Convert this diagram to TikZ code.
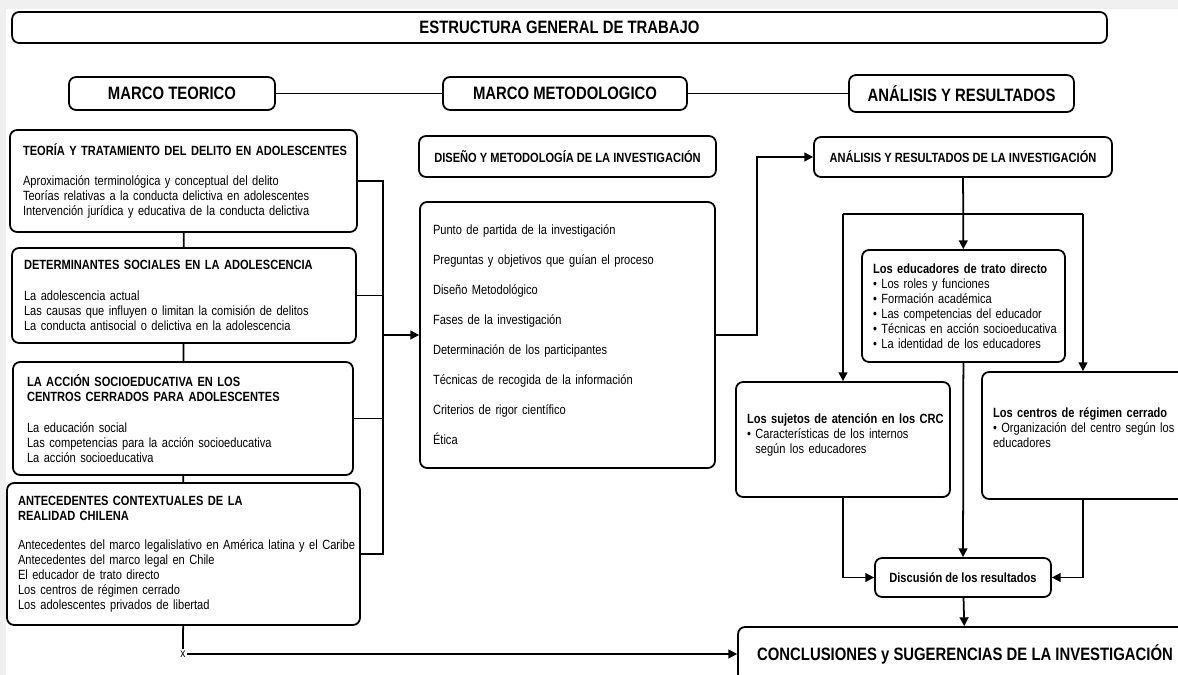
\documentclass[tikz,border=0pt]{standalone}
\usepackage{fontspec}
\setmainfont{Liberation Sans}[FakeStretch=0.83]
\usetikzlibrary{arrows.meta}
\newcommand{\chico}{\fontsize{7.6}{8.54}\selectfont\hyphenpenalty=10000}
\newcommand{\grande}{\fontsize{10.2}{12}\selectfont\bfseries}

\begin{document}
\begin{tikzpicture}[x=0.02cm, y=-0.02cm,
    caja/.style={draw=black, line width=1pt, rounded corners=4pt, fill=white},
    cabeza/.style={caja, font=\grande, inner sep=0pt},
    lista/.style={caja, font=\chico, align=left, inner ysep=0pt},
    centro/.style={caja, font=\chico\bfseries, inner sep=0pt},
    linea/.style={black, line width=1pt},
    flecha/.style={linea, -{Triangle[length=5pt,width=5pt]}}]
    \useasboundingbox (0,0) rectangle (1178,675);
    \clip (0,0) rectangle (1178,675);
    \fill[black!6] (0,0) rectangle (1178,9);
    \fill[black!6] (0,0) rectangle (6,675);

    \node[cabeza, minimum width=21.9cm, minimum height=0.62cm] (titulo) at (559.5,27.5) {ESTRUCTURA GENERAL DE TRABAJO};
    \node[cabeza, minimum width=4.12cm, minimum height=0.66cm] (mteo) at (172,93.5) {MARCO TEORICO};
    \node[cabeza, minimum width=4.88cm, minimum height=0.66cm] (mmet) at (565,93.5) {MARCO METODOLOGICO};
    \node[cabeza, minimum width=4.5cm, minimum height=0.74cm] (mres) at (961.5,93.5) {ANÁLISIS Y RESULTADOS};
    \draw[linea] (mteo) -- (mmet);
    \draw[linea] (mmet) -- (mres);

    \node[lista, text width=6.42cm, inner xsep=0.26cm, minimum height=2.04cm] (teoria) at (183.5,181) {\mbox{\textbf{TEORÍA Y TRATAMIENTO DEL DELITO EN ADOLESCENTES}}\\[8pt]
        Aproximación terminológica y conceptual del delito\\
        Teorías relativas a la conducta delictiva en adolescentes\\
        \mbox{Intervención jurídica y educativa de la conducta delictiva}};
    \node[lista, text width=6.4cm, inner xsep=0.24cm, minimum height=1.9cm] (determinantes) at (184,295.5) {\mbox{\textbf{DETERMINANTES SOCIALES EN LA ADOLESCENCIA}}\\[9pt]
        La adolescencia actual\\
        Las causas que influyen o limitan la comisión de delitos\\
        La conducta antisocial o delictiva en la adolescencia};
    \node[lista, text width=6.24cm, inner xsep=0.28cm, minimum height=2.26cm] (accion) at (183,418.5) {\textbf{LA ACCIÓN SOCIOEDUCATIVA EN LOS}\\
        \textbf{CENTROS CERRADOS PARA ADOLESCENTES}\\[9pt]
        La educación social\\
        Las competencias para la acción socioeducativa\\
        La acción socioeducativa};
    \node[lista, text width=6.62cm, inner xsep=0.22cm, minimum height=2.84cm] (antecedentes) at (183.5,554) {\textbf{ANTECEDENTES CONTEXTUALES DE LA}\\
        \textbf{REALIDAD CHILENA}\\[8pt]
        \mbox{Antecedentes del marco legalislativo en América latina y el Caribe}\\
        Antecedentes del marco legal en Chile\\
        El educador de trato directo\\
        Los centros de régimen cerrado\\
        Los adolescentes privados de libertad};
    \draw[linea] (teoria) -- (determinantes);
    \draw[linea] (determinantes) -- (accion);
    \draw[linea] (accion) -- (antecedentes);

    \node[centro, minimum width=5.94cm, minimum height=0.82cm] (diseno) at (567.5,156.5) {DISEÑO Y METODOLOGÍA DE LA INVESTIGACIÓN};
    \node[lista, font=\fontsize{7.6}{17.07}\selectfont, text width=5.38cm, inner xsep=0.26cm, minimum height=5.32cm] (fases) at (567.5,335) {Punto de partida de la investigación\\
        Preguntas y objetivos que guían el proceso\\
        Diseño Metodológico\\
        Fases de la investigación\\
        Determinación de los participantes\\
        Técnicas de recogida de la información\\
        Criterios de rigor científico\\
        Ética};

    \coordinate (bus) at (383,335);
    \draw[linea] (teoria.east) -- (teoria.east -| bus) -- (antecedentes.east -| bus) -- (antecedentes.east);
    \draw[linea] (determinantes.east) -- (determinantes.east -| bus);
    \draw[linea] (accion.east) -- (accion.east -| bus);
    \draw[flecha] (bus) -- (fases.west);

    \node[centro, minimum width=5.96cm, minimum height=0.8cm] (analisis) at (963,157) {ANÁLISIS Y RESULTADOS DE LA INVESTIGACIÓN};
    \draw[flecha] (fases.east) -- ++(41,0) |- (analisis.west);

    \node[lista, text width=3.62cm, inner xsep=0.22cm, minimum height=2.24cm] (educ) at (963.5,306) {\textbf{Los educadores de trato directo}\\
        • Los roles y funciones\\
        • Formación académica\\
        • Las competencias del educador\\
        \mbox{• Técnicas en acción socioeducativa}\\
        • La identidad de los educadores};
    \node[lista, text width=3.84cm, inner xsep=0.22cm, minimum height=2.3cm] (sujetos) at (843,439.5) {\mbox{\textbf{Los sujetos de atención en los CRC}}\\
        • Características de los internos\\
        \hphantom{•\ }según los educadores\\[-2pt]
        \mbox{}};
    \node[lista, text width=3.92cm, inner xsep=0.22cm, minimum height=2.54cm] (centros) at (1091,435.5) {\textbf{Los centros de régimen cerrado}\\
        • Organización del centro según los\\
        educadores\\
        \mbox{}};
    \node[centro, minimum width=3.52cm, minimum height=0.78cm] (disc) at (963,577.5) {Discusión de los resultados};
    \node[cabeza, minimum width=9.08cm, minimum height=1.08cm] (concl) at (965,654) {CONCLUSIONES y SUGERENCIAS DE LA INVESTIGACIÓN};

    \coordinate (izq) at (843,214);
    \coordinate (der) at (1083,214);
    \draw[flecha] (analisis) -- (educ);
    \draw[linea] (izq) -- (der);
    \draw[flecha] (izq) -- (sujetos.north);
    \draw[flecha] (der) -- (der |- centros.north);
    \draw[flecha] (educ) -- (disc);
    \draw[flecha] (sujetos.south) |- (disc.west);
    \draw[flecha] (der |- centros.south) |- (disc.east);
    \draw[flecha] (disc) -- (concl);

    \node[font=\fontsize{7}{8}\selectfont, inner sep=0.8pt] (xm) at (183,654) {x};
    \draw[linea] (antecedentes) -- (xm);
    \draw[flecha] (xm) -- (concl.west);
\end{tikzpicture}
\end{document}
